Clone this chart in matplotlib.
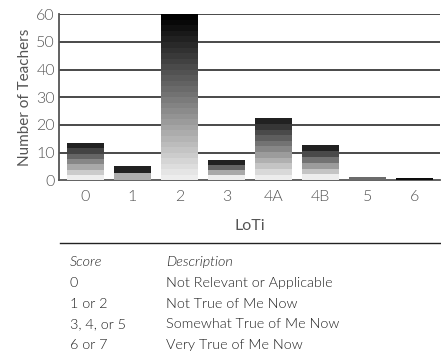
import numpy as np
import matplotlib.pyplot as plt
from matplotlib.lines import Line2D

loti = ['0', '1', '2', '3', '4A', '4B', '5', '6']
teachers = [13.5, 5, 60, 7.5, 22.4, 12.6, 1.2, 0.8]

score_col = ['0', '1 or 2', '3, 4, or 5', '6 or 7']
desc_col = ['Not Relevant or Applicable', 'Not True of Me Now',
            'Somewhat True of Me Now', 'Very True of Me Now']

plt.rcParams['font.family'] = ['Lato', 'DejaVu Sans']
plt.rcParams['font.weight'] = 300

fig = plt.figure(figsize=(4.41, 3.61), dpi=100)
ax = fig.add_axes([0.134, 0.5006, 0.864, 0.4597])

x = np.arange(len(loti))
band = 2.0
w = 0.79
for i, h in enumerate(teachers):
    n = max(1, int(round(h / band)))
    if n == 1:
        # tiny bars: single flat tone
        col = '0.42' if h > 1 else '0.05'
        ax.bar(x[i], h, width=w, color=col, zorder=3)
        continue
    step = h / n
    lo = 0.93 if n > 3 else 0.68
    shades = np.linspace(lo, 0.0 if h > 40 else 0.13, n)
    for k in range(n):
        ax.bar(x[i], step, bottom=k * step, width=w, color=str(shades[k]),
               linewidth=0, zorder=3)

ax.set_xlim(-0.56, 7.54)
ax.set_ylim(0, 60)
ax.set_yticks([0, 10, 20, 30, 40, 50, 60])
ax.set_xticks(x)
ax.set_xticklabels(loti)
for yv in [10, 20, 30, 40, 50, 60]:
    ax.axhline(yv, color='#3a3a3a', lw=1.3, zorder=1)
for s in ['top', 'right']:
    ax.spines[s].set_visible(False)
for s in ['left', 'bottom']:
    ax.spines[s].set_color('#555555')
    ax.spines[s].set_linewidth(1.3)
ax.tick_params(length=0, labelsize=11.5, labelcolor='#555555', pad=7)
ax.tick_params(axis='y', pad=3)
ax.set_xlabel('LoTi', fontsize=11.5, color='#555555', labelpad=11)
ax.set_ylabel('Number of Teachers', fontsize=11, color='#555555', labelpad=3)

fig.add_artist(Line2D([60 / 441, 440 / 441], [1 - 243 / 361, 1 - 243 / 361],
                      color='#222222', lw=1.0))
fs = 10.4
fig.text(70 / 441, 1 - 262 / 361, 'Score', style='italic', fontsize=fs,
         color='#222222', va='center')
fig.text(166 / 441, 1 - 262 / 361, 'Description', style='italic', fontsize=fs,
         color='#222222', va='center')
for r in range(len(score_col)):
    yy = 1 - (283 + r * 20.7) / 361
    fig.text(70 / 441, yy, score_col[r], fontsize=fs, color='#222222', va='center')
    fig.text(166 / 441, yy, desc_col[r], fontsize=fs, color='#222222', va='center')

fig.savefig('out.png', dpi=100)
